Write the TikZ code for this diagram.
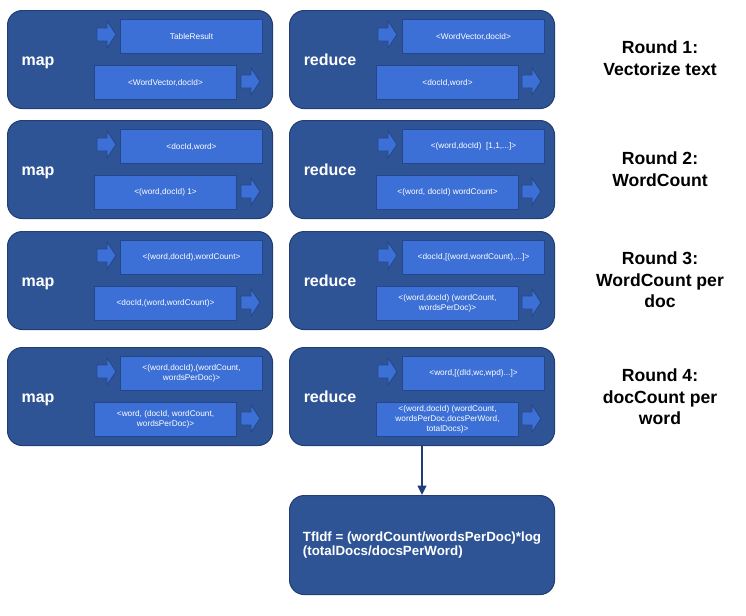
\documentclass[tikz,border=0pt]{standalone}
\usepackage{fontspec}
\setmainfont{Liberation Sans}
\usetikzlibrary{arrows.meta}
\definecolor{panelfill}{RGB}{47,84,150}
\definecolor{panelline}{RGB}{34,62,116}
\definecolor{boxfill}{RGB}{60,112,214}
\definecolor{boxline}{RGB}{36,70,138}
\definecolor{connline}{RGB}{30,62,120}
\begin{document}
\begin{tikzpicture}[x=0.75pt,y=-0.75pt,
  panel/.style={draw=panelline, fill=panelfill, line width=0.8pt, rounded corners=11pt,
    anchor=north west, inner sep=0pt, minimum width=198.75pt, minimum height=73.5pt},
  inbox/.style={draw=boxline, fill=boxfill, line width=0.8pt, anchor=north west,
    inner sep=1pt, minimum width=106.5pt, minimum height=25.5pt, text=white,
    align=center, font=\fontsize{6.2}{7.4}\selectfont},
  phase/.style={text=white, anchor=base, font=\fontsize{12}{14}\selectfont\bfseries},
  roundlbl/.style={align=center, font=\fontsize{13.2}{16.2}\selectfont\bfseries},
  finalbox/.style={draw=panelline, fill=panelfill, line width=0.8pt, rounded corners=11pt,
    anchor=north west, minimum width=198.75pt, minimum height=74.25pt,
    align=left, text=white, font=\fontsize{10}{10.2}\selectfont\bfseries},
  conn/.style={draw=connline, line width=1.3pt, -{Triangle[length=7pt,width=6.5pt]}},
  barrow/.pic={\path[draw=boxline, fill=boxfill, line width=0.6pt]
    (0,7) -- (10,7) -- (10,0) -- (19,13.5) -- (10,27) -- (10,20) -- (0,20) -- cycle;}
]
\useasboundingbox (0,0) rectangle (746,615);

% ---------- Row 1 ----------
\node[panel] (m1) at (7,10) {};
\node[panel] (r1) at (289,10) {};
\node[phase] (m1l) at (38,65) {map};
\node[phase] (r1l) at (330,65) {reduce};
\pic at (97,21) {barrow};
\node[inbox] (m1a) at (120,19) {TableResult};
\node[inbox] (m1b) at (94,65) {<WordVector,docId>};
\pic at (241,68) {barrow};
\pic at (378,21) {barrow};
\node[inbox] (r1a) at (402,19) {<WordVector,docId>};
\node[inbox] (r1b) at (376,65) {<docId,word>};
\pic at (522,68) {barrow};
\node[roundlbl] (t1) at (660,58.5) {Round 1:\\Vectorize text};

% ---------- Row 2 ----------
\node[panel] (m2) at (7,120) {};
\node[panel] (r2) at (289,120) {};
\node[phase] (m2l) at (38,175) {map};
\node[phase] (r2l) at (330,175) {reduce};
\pic at (97,131) {barrow};
\node[inbox] (m2a) at (120,129) {<docId,word>};
\node[inbox] (m2b) at (94,175) {<(word,docId) 1>};
\pic at (241,178) {barrow};
\pic at (378,131) {barrow};
\node[inbox] (r2a) at (402,129) {<(word,docId)\ \ [1,1,...]>};
\node[inbox] (r2b) at (376,175) {<(word, docId) wordCount>};
\pic at (522,178) {barrow};
\node[roundlbl] (t2) at (660,169) {Round 2:\\WordCount};

% ---------- Row 3 ----------
\node[panel] (m3) at (7,231) {};
\node[panel] (r3) at (289,231) {};
\node[phase] (m3l) at (38,286) {map};
\node[phase] (r3l) at (330,286) {reduce};
\pic at (97,242) {barrow};
\node[inbox] (m3a) at (120,240) {<(word,docId),wordCount>};
\node[inbox] (m3b) at (94,286) {<docId,(word,wordCount)>};
\pic at (241,289) {barrow};
\pic at (378,242) {barrow};
\node[inbox] (r3a) at (402,240) {<docId,[(word,wordCount),...]>};
\node[inbox] (r3b) at (376,286) {<(word,docId) (wordCount,\\wordsPerDoc)>};
\pic at (522,289) {barrow};
\node[roundlbl] (t3) at (660,280) {Round 3:\\WordCount per\\doc};

% ---------- Row 4 ----------
\node[panel] (m4) at (7,347) {};
\node[panel] (r4) at (289,347) {};
\node[phase] (m4l) at (38,402) {map};
\node[phase] (r4l) at (330,402) {reduce};
\pic at (97,358) {barrow};
\node[inbox] (m4a) at (120,356) {<(word,docId),(wordCount,\\wordsPerDoc)>};
\node[inbox] (m4b) at (94,402) {<word, (docId, wordCount,\\wordsPerDoc)>};
\pic at (241,405) {barrow};
\pic at (378,358) {barrow};
\node[inbox] (r4a) at (402,356) {<word,[(dId,wc,wpd)...]>};
\node[inbox] (r4b) at (376,402) {<(word,docId) (wordCount,\\wordsPerDoc,docsPerWord,\\totalDocs)>};
\pic at (522,405) {barrow};
\node[roundlbl] (t4) at (660,397) {Round 4:\\docCount per\\word};

% ---------- Final ----------
\node[finalbox] (fin) at (289,495) {TfIdf = (wordCount/wordsPerDoc)*log\\(totalDocs/docsPerWord)};
\draw[conn] (r4.south) -- (fin.north);
\end{tikzpicture}
\end{document}
